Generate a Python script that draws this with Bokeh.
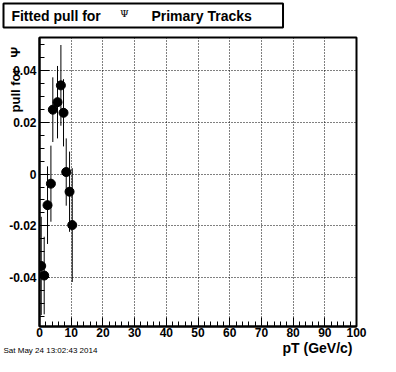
import math
from bokeh.plotting import figure
from bokeh.models import (Label, Title, FixedTicker, ColumnDataSource, Range1d)
from bokeh.embed import file_html
from bokeh.resources import INLINE

# ---- data ----
pt = [0.54, 1.48, 2.53, 3.6, 4.2, 5.68, 6.75, 7.58, 8.43, 9.48, 10.33]
pull = [-0.0355, -0.0392, -0.0120, -0.0037, 0.0249, 0.0278, 0.0343, 0.0237, 0.0008, -0.0068, -0.0197]
err = [0.019, 0.015, 0.015, 0.0147, 0.0125, 0.014, 0.0156, 0.013, 0.013, 0.0155, 0.022]

x_ticks = [0, 10, 20, 30, 40, 50, 60, 70, 80, 90, 100]
y_ticks = [-0.04, -0.02, 0.0, 0.02, 0.04]
y_tick_labels = ["-0.04", "-0.02", "0", "0.02", "0.04"]
x_range = (0, 100)
y_range = (-0.0589, 0.0528)

NB = "\u00a0"
title_text = NB + "Fitted pull for" + NB * 13 + "Primary Tracks" + NB * 7
psi = "\u03a8"
ylabel_text = "pull for" + NB * 3 + psi
xlabel_text = "pT (GeV/c)"
date_text = "Sat May 24 13:02:43 2014"

src = ColumnDataSource(dict(
    x=pt, y=pull,
    lo=[v - e for v, e in zip(pull, err)],
    hi=[v + e for v, e in zip(pull, err)],
))

W, H = 380, 356
p = figure(width=W, height=H, output_backend="svg", toolbar_location=None,
           title_location=None,
           x_range=Range1d(*x_range), y_range=Range1d(*y_range),
           min_border_left=39, min_border_right=24, min_border_top=37, min_border_bottom=30)
p.background_fill_color = "white"
p.border_fill_color = "white"
p.outline_line_color = "black"
p.outline_line_width = 2

HB = "Liberation Sans"

# x axis
xa = p.xaxis[0]
xa.ticker = FixedTicker(ticks=x_ticks, minor_ticks=[v for v in range(0, 101, 2)])
xa.major_tick_in = 9
xa.major_tick_out = 0
xa.minor_tick_in = 5
xa.minor_tick_out = 0
xa.major_label_text_font = HB
xa.major_label_text_font_style = "bold"
xa.major_label_text_font_size = "12px"
xa.major_label_text_color = "black"
xa.major_label_standoff = 1
xa.axis_line_color = "black"
xa.axis_line_width = 2
xa.major_tick_line_color = "black"
xa.minor_tick_line_color = "black"

# y axis
ya = p.yaxis[0]
ya.ticker = FixedTicker(ticks=y_ticks,
                        minor_ticks=[round(-0.055 + 0.005 * i, 4) for i in range(23)])
ya.major_label_overrides = {t: l for t, l in zip(y_ticks, y_tick_labels)}
ya.major_tick_in = 10
ya.major_tick_out = 0
ya.minor_tick_in = 5
ya.minor_tick_out = 0
ya.major_label_text_font = HB
ya.major_label_text_font_style = "bold"
ya.major_label_text_font_size = "12px"
ya.major_label_text_color = "black"
ya.major_label_standoff = 3
ya.axis_line_color = "black"
ya.axis_line_width = 2
ya.major_tick_line_color = "black"
ya.minor_tick_line_color = "black"

# grid
for g in (p.xgrid[0], p.ygrid[0]):
    g.grid_line_color = "black"
    g.grid_line_dash = "1 2"
    g.grid_line_width = 1
    g.grid_line_alpha = 1.0

# error bars + markers
p.segment(x0="x", y0="lo", x1="x", y1="hi", source=src, line_color="black", line_width=1)
p.scatter(x="x", y="y", source=src, size=9, color="black")

# x axis label, right aligned under the axis
p.add_layout(Label(x=352, y=355, x_units="canvas", y_units="canvas", text=xlabel_text,
                   text_font=HB, text_font_style="bold", text_font_size="14px",
                   text_baseline="bottom", text_align="right", text_color="black"), "below")

# date stamp (drawn at the bottom, its panel slot is above)
p.add_layout(Label(x=3, y=354, x_units="canvas", y_units="canvas", text=date_text,
                   text_font=HB, text_font_size="8px",
                   text_baseline="bottom", text_align="left", text_color="black"), "above")

# title in a box
t = Title(text=title_text, align="left", offset=-36, standoff=2,
          text_font=HB, text_font_style="bold", text_font_size="14px", text_color="black",
          border_line_color="black", border_line_width=2, background_fill_color="white",
          padding=4)
p.add_layout(t, "above")

# psi inside the title box
p.add_layout(Label(x=124, y=13, x_units="canvas", y_units="canvas", text=psi,
                   text_font="DejaVu Serif", text_font_size="10px",
                   text_baseline="middle", text_align="center", text_color="black"), "right")

# y axis label (rotated)
p.add_layout(Label(x=15, y=112, x_units="canvas", y_units="canvas", text=ylabel_text,
                   angle=math.pi / 2, text_font=HB, text_font_style="bold",
                   text_font_size="13px", text_baseline="middle", text_align="left",
                   text_color="black"), "right")

open("out.html", "w").write(file_html(p, INLINE))
